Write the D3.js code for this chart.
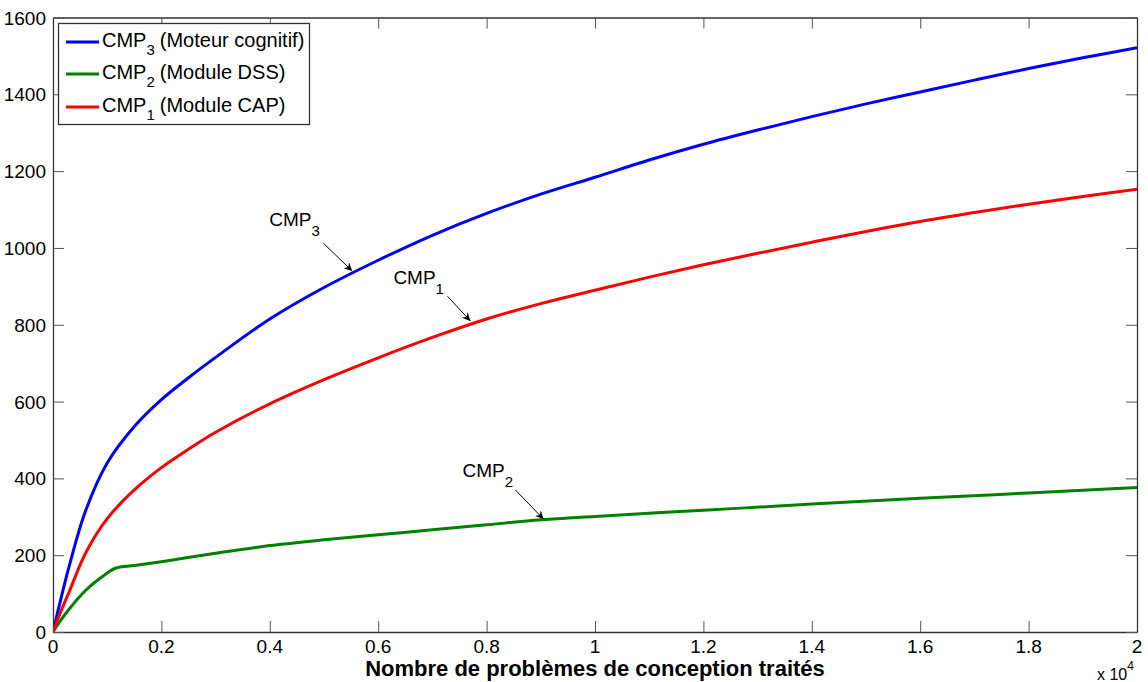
<!DOCTYPE html>
<html>
<head>
<meta charset="utf-8">
<script src="https://cdn.jsdelivr.net/npm/d3@7"></script>
<style>
  html, body { margin: 0; padding: 0; background: #fff; }
  svg { display: block; font-family: "Liberation Sans", Arial, sans-serif; }
</style>
</head>
<body>
<svg id="chart" width="1148" height="682"></svg>
<script>
// ---------- data ----------
const xCMP3 = [0, 100, 300, 600, 1000, 1500, 2000, 2500, 3000, 4000, 5000, 6000, 7000, 8000, 9000, 10000, 11000, 12000, 13000, 14000, 15000, 16000, 17000, 18000, 19000, 20000];
const yCMP3 = [0, 60, 172, 315, 440, 535, 605, 662, 715, 815, 897, 968, 1033, 1090, 1140, 1184, 1229, 1270, 1307, 1342, 1375, 1406, 1437, 1467, 1495, 1521];

const xCMP2 = [0, 100, 300, 600, 900, 1150, 1500, 2000, 2400, 3000, 4000, 5000, 6000, 7000, 8000, 9000, 10000, 12000, 14000, 16000, 18000, 20000];
const yCMP2 = [0, 22, 60, 108, 143, 166, 173, 183, 192, 205, 225, 240, 253, 266, 279, 292, 301, 317, 333, 348, 362, 376];

const xCMP1 = [0, 100, 300, 600, 1000, 1500, 2000, 2500, 3000, 4000, 5000, 6000, 7000, 8000, 9000, 10000, 11000, 12000, 13000, 14000, 15000, 16000, 17000, 18000, 19000, 20000];
const yCMP1 = [0, 38, 105, 205, 295, 370, 428, 476, 520, 594, 657, 714, 767, 815, 855, 890, 924, 956, 986, 1015, 1043, 1069, 1092, 1114, 1134, 1153];

const seriesNames = ["CMP3", "CMP2", "CMP1"];
const legendSub = ["3", "2", "1"];
const legendDesc = ["(Moteur cognitif)", "(Module DSS)", "(Module CAP)"];
const seriesColors = ["#0000ff", "#008000", "#ff0000"];

const xTickValues = [0, 2000, 4000, 6000, 8000, 10000, 12000, 14000, 16000, 18000, 20000];
const xTickLabels = ["0", "0.2", "0.4", "0.6", "0.8", "1", "1.2", "1.4", "1.6", "1.8", "2"];
const yTickValues = [0, 200, 400, 600, 800, 1000, 1200, 1400, 1600];
const yTickLabels = ["0", "200", "400", "600", "800", "1000", "1200", "1400", "1600"];

const xLabel = "Nombre de problèmes de conception traités";

// annotations (data coordinates): label position, arrow start, arrow tip
const annSub = ["3", "1", "2"];
const annTextX = [3990, 6280, 7555];
const annTextY = [1057, 905, 404];
const annFromX = [4990, 7280, 8530];
const annFromY = [1012, 874, 370];
const annToX = [5520, 7700, 9050];
const annToY = [940, 810, 294];

// ---------- layout ----------
const svg = d3.select("#chart");
const pLeft = 53, pRight = 1137, pTop = 17.5, pBottom = 632;

const x = d3.scaleLinear().domain([0, 20000]).range([pLeft, pRight]);
const y = d3.scaleLinear().domain([0, 1600]).range([pBottom, pTop]);

const axisColor = "#333";
const tickLen = 11;

svg.append("rect").attr("x", pLeft).attr("y", pTop).attr("width", pRight - pLeft).attr("height", pBottom - pTop).attr("fill", "#fff");

// axes (ticks inward) on all four sides
const gB = svg.append("g").attr("transform", `translate(0,${pBottom})`)
  .call(d3.axisBottom(x).tickValues(xTickValues).tickSize(-tickLen).tickSizeOuter(0).tickFormat(""));
const gT = svg.append("g").attr("transform", `translate(0,${pTop})`)
  .call(d3.axisTop(x).tickValues(xTickValues).tickSize(-tickLen).tickSizeOuter(0).tickFormat(""));
const gL = svg.append("g").attr("transform", `translate(${pLeft},0)`)
  .call(d3.axisLeft(y).tickValues(yTickValues).tickSize(-tickLen).tickSizeOuter(0).tickFormat(""));
const gR = svg.append("g").attr("transform", `translate(${pRight},0)`)
  .call(d3.axisRight(y).tickValues(yTickValues).tickSize(-tickLen).tickSizeOuter(0).tickFormat(""));
[gB, gT, gL, gR].forEach(g => {
  g.select(".domain").attr("stroke", axisColor).attr("stroke-width", 1.3);
  g.selectAll(".tick line").attr("stroke", "#555").attr("stroke-width", 1);
});

// tick labels
svg.append("g").selectAll("text").data(xTickValues).join("text")
  .attr("x", d => x(d)).attr("y", 653)
  .attr("text-anchor", "middle").attr("font-size", 19).attr("fill", "#000")
  .text((d, i) => xTickLabels[i]);
svg.append("g").selectAll("text").data(yTickValues).join("text")
  .attr("x", 46).attr("y", d => y(d) + 7)
  .attr("text-anchor", "end").attr("font-size", 19).attr("fill", "#000")
  .text((d, i) => yTickLabels[i]);

// exponent
const ex = svg.append("text").attr("x", 1097).attr("y", 680).attr("font-size", 16).attr("fill", "#000");
ex.append("tspan").text("x 10");
ex.append("tspan").attr("dy", -10).attr("font-size", 12).text("4");

// x label
svg.append("text").attr("x", x(10000)).attr("y", 676)
  .attr("text-anchor", "middle").attr("font-size", 22).attr("font-weight", "bold").attr("fill", "#000")
  .text(xLabel);

// ---------- lines ----------
const line = d3.line().x(d => x(d[0])).y(d => y(d[1])).curve(d3.curveCatmullRom.alpha(0.5));
const series = [
  d3.zip(xCMP3, yCMP3),
  d3.zip(xCMP2, yCMP2),
  d3.zip(xCMP1, yCMP1)
];
svg.append("clipPath").attr("id", "clip").append("rect")
  .attr("x", pLeft).attr("y", pTop).attr("width", pRight - pLeft).attr("height", pBottom - pTop);
svg.append("g").attr("clip-path", "url(#clip)").selectAll("path").data(series).join("path")
  .attr("d", line).attr("fill", "none")
  .attr("stroke", (d, i) => seriesColors[i]).attr("stroke-width", 3)
  .attr("stroke-linejoin", "round");

// ---------- annotations ----------
svg.append("defs").append("marker").attr("id", "arrow")
  .attr("viewBox", "0 0 10 10").attr("refX", 10).attr("refY", 5)
  .attr("markerWidth", 11).attr("markerHeight", 8).attr("markerUnits", "userSpaceOnUse")
  .attr("orient", "auto")
  .append("path").attr("d", "M0,0 L10,5 L0,10 L3,5 Z").attr("fill", "#000");

annSub.forEach((s, i) => {
  const t = svg.append("text").attr("x", x(annTextX[i])).attr("y", y(annTextY[i]))
    .attr("font-size", 19).attr("fill", "#000");
  t.append("tspan").text("CMP");
  t.append("tspan").attr("dy", 10).attr("font-size", 15).text(s);
  svg.append("line")
    .attr("x1", x(annFromX[i])).attr("y1", y(annFromY[i]))
    .attr("x2", x(annToX[i])).attr("y2", y(annToY[i]))
    .attr("stroke", "#000").attr("stroke-width", 1)
    .attr("marker-end", "url(#arrow)");
});

// ---------- legend ----------
const lg = svg.append("g");
lg.append("rect").attr("x", 58.5).attr("y", 23.5).attr("width", 251).attr("height", 101)
  .attr("fill", "#fff").attr("stroke", "#333").attr("stroke-width", 1.3);
const legendY = [42, 74, 107];
seriesNames.forEach((n, i) => {
  lg.append("line").attr("x1", 66).attr("x2", 99).attr("y1", legendY[i]).attr("y2", legendY[i])
    .attr("stroke", seriesColors[i]).attr("stroke-width", 3);
  const t = lg.append("text").attr("x", 102).attr("y", legendY[i] + 5)
    .attr("font-size", 20).attr("fill", "#000");
  t.append("tspan").text("CMP");
  t.append("tspan").attr("dy", 8).attr("font-size", 15).text(legendSub[i]);
  t.append("tspan").attr("dx", 5).attr("dy", -8).text(legendDesc[i]);
});
</script>
</body>
</html>
